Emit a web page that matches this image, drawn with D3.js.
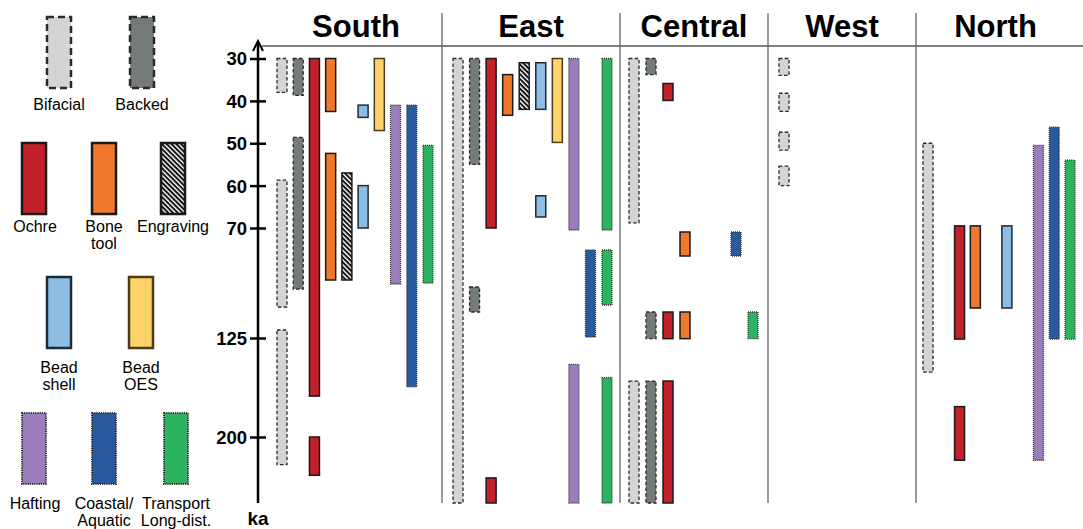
<!DOCTYPE html>
<html><head><meta charset="utf-8">
<script src="https://cdn.jsdelivr.net/npm/d3@7"></script>
<style>body{margin:0;background:#fff}svg{display:block;font-family:"Liberation Sans",Arial,Helvetica,sans-serif}</style>
</head><body><svg id="c" width="1083" height="529"></svg>
<script>
// ---------------- DATA ----------------
const regions = ["South", "East", "Central", "West", "North"];
const types = ["Bifacial", "Backed", "Ochre", "Bone tool", "Engraving", "Bead shell", "Bead OES", "Hafting", "Coastal/Aquatic", "Transport Long-dist."];
const tickValues = [30, 40, 50, 60, 70, 125, 200];
const axisUnit = "ka";

// [type, from ka, to ka]
const southBars = [
  ["Bifacial", 30, 38], ["Bifacial", 58.7, 109.5], ["Bifacial", 121, 221],
  ["Backed", 30, 38.7], ["Backed", 48.6, 100.5],
  ["Ochre", 30, 169], ["Ochre", 200, 229],
  ["Bone tool", 30, 42.5], ["Bone tool", 52.4, 96],
  ["Engraving", 57, 96],
  ["Bead shell", 41, 43.9], ["Bead shell", 60, 70],
  ["Bead OES", 30, 47],
  ["Hafting", 41, 98],
  ["Coastal/Aquatic", 41, 162],
  ["Transport Long-dist.", 50.5, 97.5]
];
const eastBars = [
  ["Bifacial", 30, 250],
  ["Backed", 30, 55], ["Backed", 99.5, 112],
  ["Ochre", 30, 70], ["Ochre", 231, 250],
  ["Bone tool", 33.8, 43.4],
  ["Engraving", 31, 42],
  ["Bead shell", 31, 42], ["Bead shell", 62.4, 67.4],
  ["Bead OES", 30, 49.8],
  ["Hafting", 30, 71], ["Hafting", 145, 250],
  ["Coastal/Aquatic", 81, 124.5],
  ["Transport Long-dist.", 30, 71], ["Transport Long-dist.", 81, 108.5], ["Transport Long-dist.", 155, 250]
];
const centralBars = [
  ["Bifacial", 30, 68.8], ["Bifacial", 157.6, 250],
  ["Backed", 30, 33.8], ["Backed", 112, 125.5], ["Backed", 157.6, 250],
  ["Ochre", 35.9, 39.9], ["Ochre", 112, 125.5], ["Ochre", 157.6, 250],
  ["Bone tool", 72, 84], ["Bone tool", 112, 125.5],
  ["Coastal/Aquatic", 72, 84],
  ["Transport Long-dist.", 112, 125.5]
];
const westBars = [
  ["Bifacial", 30, 34], ["Bifacial", 38.2, 42.5], ["Bifacial", 47.4, 51.6], ["Bifacial", 55.4, 60]
];
const northBars = [
  ["Bifacial", 50, 150.8],
  ["Ochre", 69.5, 125.8], ["Ochre", 177, 217.6],
  ["Bone tool", 69.5, 110],
  ["Bead shell", 69.5, 110],
  ["Hafting", 50.5, 217.6],
  ["Coastal/Aquatic", 46.2, 125.8],
  ["Transport Long-dist.", 54, 125.8]
];
const regionBars = {South: southBars, East: eastBars, Central: centralBars, West: westBars, North: northBars};

// ---------------- STYLES / LAYOUT ----------------
const fills = {
  "Bifacial": "#d4d4d4", "Backed": "#747b7a", "Ochre": "#c4202a", "Bone tool": "#f0782c",
  "Engraving": "url(#hatch)", "Bead shell": "#8dbde3", "Bead OES": "#fed46a",
  "Hafting": "#9b7dbb", "Coastal/Aquatic": "#2a5a9e", "Transport Long-dist.": "#2bb35f"
};
const strokes = {
  "Bead shell": "#1d2a38", "Bead OES": "#4a3b1b"
};
const lineKind = t => (t === "Bifacial" || t === "Backed") ? "dash" :
  (t === "Hafting" || t === "Coastal/Aquatic" || t === "Transport Long-dist.") ? "dot" : "solid";

const regionEdges = [258, 442, 620, 768, 916, 1083];
const laneLayout = {
  South:   {lanes: types, range: [277, 423]},
  East:    {lanes: types, range: [453, 602]},
  Central: {lanes: ["Bifacial", "Backed", "Ochre", "Bone tool", "_g1", "_g2", "Coastal/Aquatic", "Transport Long-dist."], range: [629, 748]},
  West:    {lanes: ["Bifacial"], range: [779, 779]},
  North:   {lanes: types, range: [923, 1065]}
};
const barW = 10;

const svg = d3.select("#c");
const defs = svg.append("defs");
const pat = defs.append("pattern").attr("id", "hatch").attr("patternUnits", "userSpaceOnUse")
  .attr("width", 3.4).attr("height", 3.4).attr("patternTransform", "rotate(-45)");
pat.append("rect").attr("width", 3.4).attr("height", 3.4).attr("fill", "#111");
pat.append("rect").attr("x", 0).attr("width", 1.4).attr("height", 3.4).attr("fill", "#fff");

const y = d3.scaleLinear().domain([30, 70, 125, 200, 250]).range([58.5, 228, 338, 437, 503]);

// Frame lines
const axisX = regionEdges[0];
svg.append("line").attr("x1", axisX + 4).attr("x2", 1083).attr("y1", 46).attr("y2", 46)
  .attr("stroke", "#555").attr("stroke-width", 1.3);
regionEdges.slice(1, 5).forEach(x => {
  svg.append("line").attr("x1", x).attr("x2", x).attr("y1", 13).attr("y2", 503)
    .attr("stroke", "#666").attr("stroke-width", 1.3);
});

// Region titles
const titleCenters = regions.map((r, i) => (i === 0 ? (regionEdges[0] + 12 + regionEdges[1]) / 2 : (regionEdges[i] + regionEdges[i + 1]) / 2) - (i === 4 ? 4 : 0));
svg.selectAll("text.title").data(regions).join("text").attr("class", "title")
  .attr("x", (d, i) => titleCenters[i]).attr("y", 37).attr("text-anchor", "middle")
  .attr("font-size", 31).attr("font-weight", "bold").attr("fill", "#000").text(d => d);

// Axis
const axisG = svg.append("g").attr("transform", `translate(${axisX},0)`)
  .call(d3.axisLeft(y).tickValues(tickValues).tickSize(8).tickPadding(3).tickFormat(d3.format("d")));
axisG.select(".domain").remove();
axisG.selectAll(".tick line").attr("x1", -8).attr("x2", 8).attr("stroke", "#000").attr("stroke-width", 2.5);
axisG.selectAll(".tick text").attr("font-size", 18.5).attr("font-weight", "bold")
  .attr("font-family", "\"Liberation Sans\",Arial,sans-serif").attr("fill", "#000").attr("dy", "0.35em");
svg.append("line").attr("x1", axisX).attr("x2", axisX).attr("y1", 42).attr("y2", 503)
  .attr("stroke", "#000").attr("stroke-width", 2.5);
svg.append("path").attr("d", `M${axisX - 5},51 L${axisX},41 L${axisX + 5},51`)
  .attr("fill", "none").attr("stroke", "#000").attr("stroke-width", 2);
svg.append("text").attr("x", axisX).attr("y", 525).attr("text-anchor", "middle")
  .attr("font-size", 19).attr("font-weight", "bold").text(axisUnit);

function styleBar(sel, t, legend) {
  const k = lineKind(t);
  sel.attr("fill", fills[t])
    .attr("stroke", k === "solid" ? (strokes[t] || "#1a1a1a") : (k === "dash" ? "#2a2a2a" : "#333"))
    .attr("stroke-width", legend ? (k === "dot" ? 2 : 2.5) : (k === "solid" ? 1.5 : 1.3))
    .attr("stroke-dasharray", k === "dash" ? (legend ? "7,4" : "3.5,2.2") : k === "dot" ? (legend ? "1.2,1" : "1,1") : null);
}

// Bars
regions.forEach(r => {
  const lay = laneLayout[r];
  const x = d3.scalePoint().domain(lay.lanes).range(lay.range);
  const g = svg.append("g").attr("class", "region-" + r);
  regionBars[r].forEach(([t, a, b]) => {
    const rect = g.append("rect").attr("x", x(t)).attr("width", barW)
      .attr("y", y(a)).attr("height", y(b) - y(a));
    styleBar(rect, t, false);
  });
});

// Legend
const legendItems = [
  {t: "Bifacial", lines: ["Bifacial"]},
  {t: "Backed", lines: ["Backed"]},
  {t: "Ochre", lines: ["Ochre"]},
  {t: "Bone tool", lines: ["Bone", "tool"]},
  {t: "Engraving", lines: ["Engraving"]},
  {t: "Bead shell", lines: ["Bead", "shell"]},
  {t: "Bead OES", lines: ["Bead", "OES"]},
  {t: "Hafting", lines: ["Hafting"]},
  {t: "Coastal/Aquatic", lines: ["Coastal/", "Aquatic"]},
  {t: "Transport Long-dist.", lines: ["Transport", "Long-dist."]}
];
const legendPos = [[47, 17, 110], [130, 17, 110], [22, 143, 232], [92, 143, 232], [161, 143, 232],
  [47, 277, 373], [129, 277, 373], [22, 413, 509], [92, 413, 509], [164, 413, 509]];
const lg = svg.append("g").attr("class", "legend");
legendItems.forEach((it, i) => {
  const [lx, ly, tb] = legendPos[i];
  const rect = lg.append("rect").attr("x", lx).attr("y", ly).attr("width", 24).attr("height", 71);
  styleBar(rect, it.t, true);
  const cx = lx + 12 + (it.t === "Ochre" || it.t === "Hafting" ? 1 : 0);
  it.lines.forEach((s, j) => {
    lg.append("text").attr("x", cx).attr("y", tb + j * 17).attr("text-anchor", "middle")
      .attr("font-size", 16).attr("fill", "#000").text(s);
  });
});
</script></body></html>
